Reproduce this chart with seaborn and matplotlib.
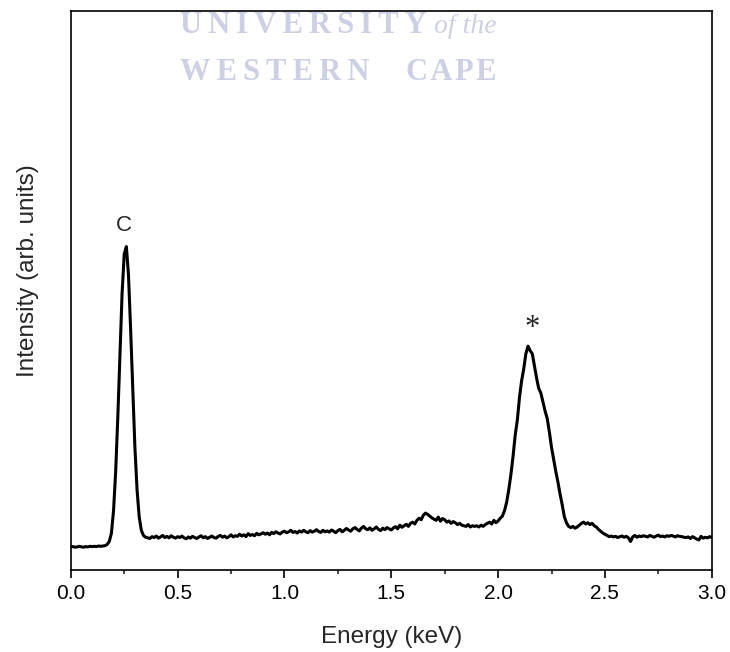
import numpy as np
import pandas as pd
import seaborn as sns
import matplotlib
matplotlib.use("Agg")
import matplotlib.pyplot as plt
from matplotlib.ticker import MultipleLocator, NullLocator

# EDX spectrum, 10 eV channels from 0.00 to 3.00 keV
energy_kev = np.round(np.arange(301) * 0.01, 2)
intensity = [
    # 0.00 - 0.16
    0, 1, -1, 0, 2, 0, -1, 1, 0, 2,
    1, 2, 1, 3, 2, 3, 4,
    # 0.17 - 0.35  (C K-alpha)
    8, 18, 45, 120, 250, 430, 640, 840, 970, 995,
    900, 720, 520, 330, 190, 100, 55, 38, 32,
    # 0.36 - 0.49
    30, 28, 34, 31, 36, 29, 33, 38, 31, 35, 30, 37, 32, 29,
    # 0.50 - 0.99
    34, 31, 36, 30, 27, 33, 29, 35, 31, 28,
    33, 37, 30, 34, 28, 32, 36, 31, 29, 35,
    38, 32, 36, 30, 34, 40, 33, 37, 35, 42,
    36, 40, 34, 44, 38, 41, 37, 45, 40, 43,
    47, 42, 46, 40, 48, 44, 50, 46, 43, 49,
    # 1.00 - 1.89
    52, 47, 50, 55, 48, 51, 46, 53, 49, 55,
    50, 47, 54, 49, 52, 57, 51, 48, 55, 50,
    53, 49, 56, 52, 47, 54, 58, 50, 55, 61,
    56, 52, 60, 64, 58, 53, 62, 68, 60, 57,
    63, 55, 60, 66, 58, 54, 62, 57, 64, 60,
    56, 63, 67, 60, 72, 65, 70, 75, 68, 78,
    82, 76, 88, 95, 90, 105, 112, 108, 102, 96,
    92, 88, 99, 85, 94, 90, 82, 86, 78, 84,
    80, 74, 78, 72, 70, 68, 74, 66, 70, 68,
    # 1.90 - 1.99
    70, 66, 72, 68, 74, 78, 82, 76, 88, 80,
    # 2.00 - 2.35  (second peak)
    86, 95, 102, 120, 148, 190, 240, 300, 370, 420,
    495, 550, 590, 640, 665, 650, 640, 600, 560, 525,
    510, 480, 450, 425, 380, 330, 290, 250, 215, 175,
    140, 100, 80, 68, 64, 68,
    # 2.36 - 2.49
    62, 66, 72, 78, 82, 76, 80, 74, 78, 70, 66, 58, 52, 46,
    # 2.50 - 3.00
    42, 38, 34, 36, 33, 35, 31, 34, 36, 32,
    35, 30, 18, 33, 38, 32, 36, 34, 37, 35,
    33, 38, 35, 32, 36, 39, 34, 36, 33, 37,
    35, 38, 36, 33, 37, 35, 34, 32, 31, 33,
    28, 34, 30, 26, 23, 35, 29, 32, 30, 34,
    31,
]

peak_labels = ["C", "*"]
peak_label_x = [0.25, 2.16]
peak_label_y = [1066, 722]

x_ticks = [0.0, 0.5, 1.0, 1.5, 2.0, 2.5, 3.0]

spectrum = pd.DataFrame({"Energy": energy_kev, "Intensity": intensity})

sns.set_theme(style="ticks")
sans = ["Liberation Sans Narrow", "Liberation Sans", "DejaVu Sans"]
serif = ["Liberation Serif", "DejaVu Serif"]
plt.rcParams["font.family"] = sans
plt.rcParams["axes.linewidth"] = 1.2

fig = plt.figure(figsize=(7.30, 6.52), dpi=100)
ax = fig.add_axes([0.097, 0.126, 0.878, 0.857])

sns.lineplot(data=spectrum, x="Energy", y="Intensity", color="black",
             linewidth=2.2, ax=ax)

ax.set_xlim(0, 3.0)
ax.set_ylim(-76, 1775)
ax.set_xticks(x_ticks)
ax.set_xticklabels([f"{t:.1f}" for t in x_ticks])
ax.xaxis.set_minor_locator(MultipleLocator(0.25))
ax.yaxis.set_major_locator(NullLocator())
ax.yaxis.set_minor_locator(NullLocator())
ax.tick_params(axis="x", which="major", direction="out", length=6,
               width=1.2, labelsize=15, pad=4, colors="black")
ax.tick_params(axis="x", which="minor", direction="out", length=3, width=1.2)
ax.set_xlabel("Energy (keV)", fontsize=17.5, labelpad=17,
              family=["Liberation Sans", "DejaVu Sans"])
ax.set_ylabel("Intensity (arb. units)", fontsize=17.5,
              family=["Liberation Sans", "DejaVu Sans"])
ax.yaxis.set_label_coords(-0.05, 0.535)
for s in ax.spines.values():
    s.set_color("black")
    s.set_linewidth(1.2)

ax.text(peak_label_x[0], peak_label_y[0], peak_labels[0], ha="center", va="center",
        fontsize=16, family=["Liberation Sans", "DejaVu Sans"])
ax.text(peak_label_x[1], peak_label_y[1], peak_labels[1], ha="center", va="center",
        fontsize=22, family=serif)

# institutional watermark across the top of the frame (letter-spaced)
wm_color = "#cdd0e4"
thin = "\u2009"
hair = "\u200a"
fig.text(180 / 730, 1 - 33 / 652, thin.join("UNIVERSITY"), ha="left", va="baseline",
         fontsize=22, fontweight="bold", color=wm_color, family=serif)
fig.text(497 / 730, 1 - 33 / 652, "of the", ha="right", va="baseline",
         fontsize=20, fontstyle="italic", color=wm_color, family=serif)
fig.text(180 / 730, 1 - 80 / 652, thin.join("WESTERN"), ha="left", va="baseline",
         fontsize=22, fontweight="bold", color=wm_color, family=serif)
fig.text(497 / 730, 1 - 80 / 652, hair.join("CAPE"), ha="right", va="baseline",
         fontsize=22, fontweight="bold", color=wm_color, family=serif)

fig.savefig("out.png", dpi=100, facecolor="white")
